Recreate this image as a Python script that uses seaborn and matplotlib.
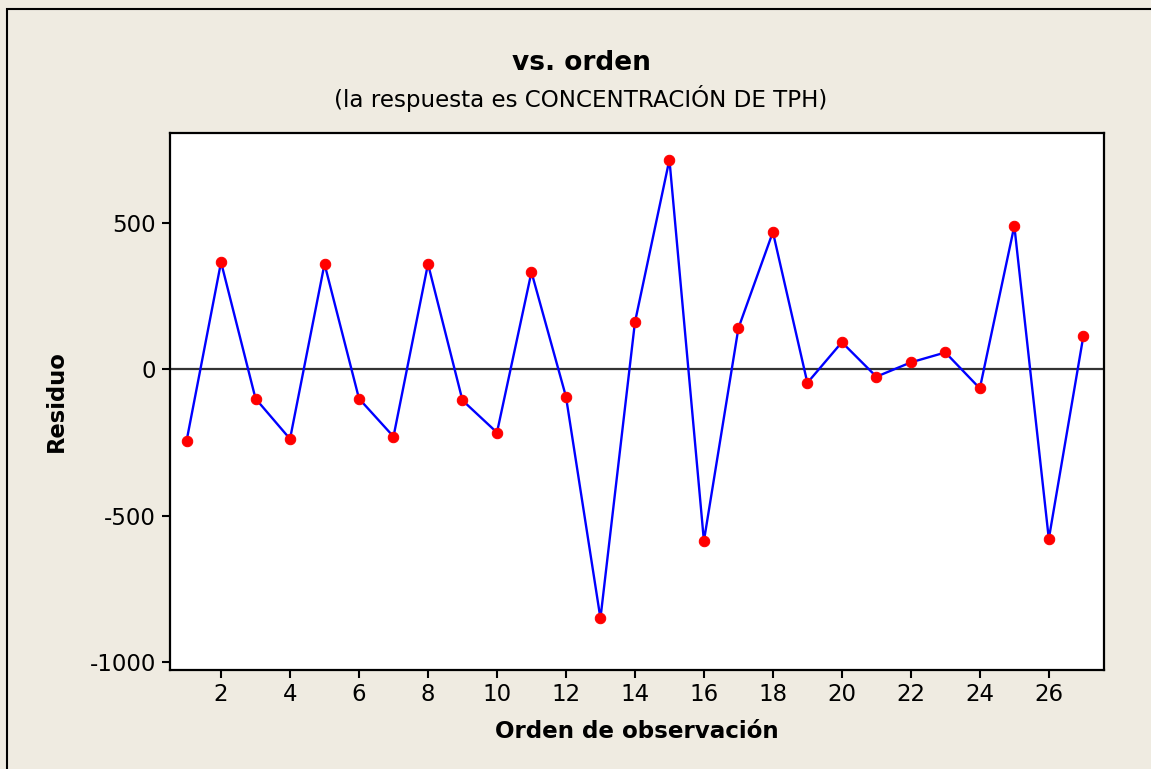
import matplotlib
matplotlib.use("Agg")
import matplotlib.pyplot as plt
from matplotlib.patches import Rectangle
import seaborn as sns
import pandas as pd

# Observation order and residuals
orden = list(range(1, 28))
residuo = [-245, 367, -100, -238, 361, -100, -230, 361, -106, -216,
           333, -93, -852, 161, 718, -587, 141, 470, -46, 93,
           -25, 24, 58, -65, 491, -580, 113]

x_ticks = list(range(2, 27, 2))
y_ticks = [-1000, -500, 0, 500]

titulo = "vs. orden"
subtitulo = "(la respuesta es CONCENTRACIÓN DE TPH)"
x_label = "Orden de observación"
y_label = "Residuo"

df = pd.DataFrame({"orden": orden, "residuo": residuo})

sns.set_theme(style="white")
plt.rcParams["font.family"] = ["DejaVu Sans"]
plt.rcParams["axes.unicode_minus"] = False

bg = "#EFEBE1"
W, H = 1151, 769
fig = plt.figure(figsize=(W / 100, H / 100), dpi=100, facecolor=bg)

# outer frame of the graph window
fig.patches.append(Rectangle((7 / W, -0.1), 1.2, 1 - 9 / H + 0.1,
                             transform=fig.transFigure, fill=False,
                             edgecolor="black", linewidth=1.5, zorder=0))

ax = fig.add_axes([170 / W, 1 - 669.5 / H, (1104 - 170) / W, (669.5 - 133) / H])
ax.set_facecolor("white")

ax.axhline(0, color="#333333", linewidth=1.6, zorder=1)
sns.lineplot(data=df, x="orden", y="residuo", ax=ax, color="#0000FF",
             linewidth=1.7, marker="o", markersize=7.5,
             markerfacecolor="#FF0000", markeredgecolor="#FF0000", zorder=3)

ax.set_xlim(0.52, 27.6)
ax.set_ylim(-1027, 809)
ax.set_xticks(x_ticks)
ax.set_yticks(y_ticks)
ax.tick_params(axis="both", direction="out", length=6, width=1.5,
               color="black", labelsize=16.5, labelcolor="black",
               bottom=True, left=True, pad=4)
for s in ax.spines.values():
    s.set_color("black")
    s.set_linewidth(1.6)

ax.set_xlabel(x_label, fontsize=16.6, fontweight="bold", color="black", labelpad=10)
ax.set_ylabel(y_label, fontsize=16.3, fontweight="bold", color="black", labelpad=16)

fig.text(581 / W, 1 - 63 / H, titulo, ha="center", va="center",
         fontsize=19, fontweight="bold", color="black")
fig.text(581 / W, 1 - 98 / H, subtitulo, ha="center", va="center",
         fontsize=16.6, color="black")

fig.savefig("out.png", dpi=100, facecolor=bg)
